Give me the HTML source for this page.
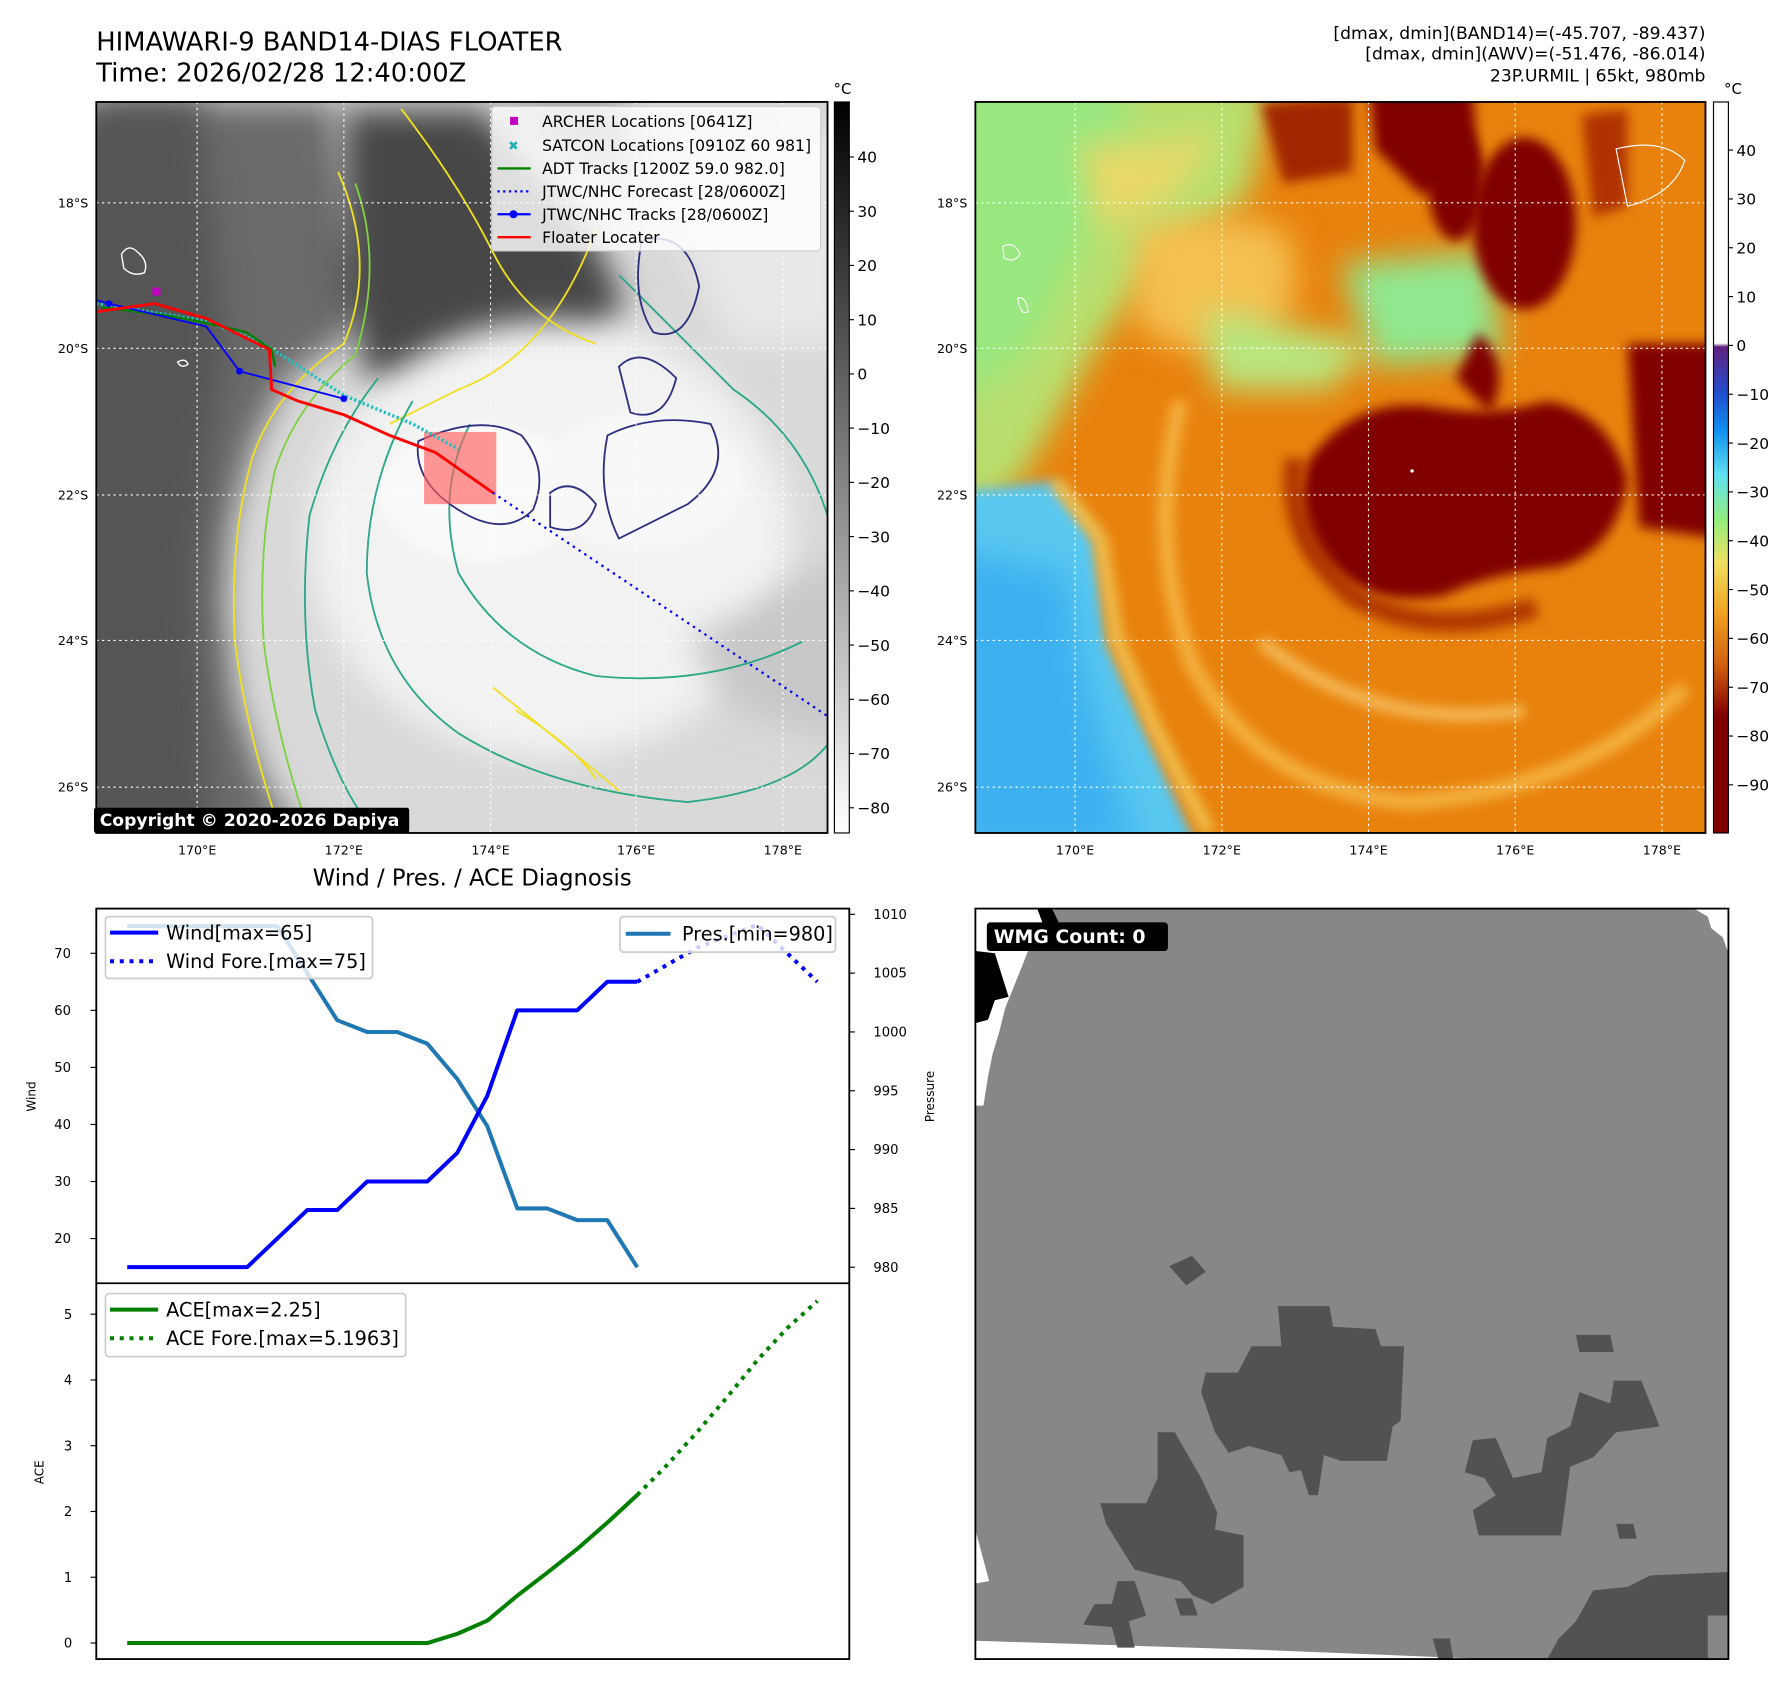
<!DOCTYPE html>
<html><head><meta charset="utf-8"><style>
html,body{margin:0;padding:0;background:#fff;}
svg{display:block;font-family:"DejaVu Sans","Liberation Sans",sans-serif;}
</style></head><body>
<svg id="root" width="1788" height="1690" viewBox="0 0 1560 1475" preserveAspectRatio="none" xmlns="http://www.w3.org/2000/svg">
<defs>
<clipPath id="c1"><rect x="84" y="89" width="638" height="638"/></clipPath>
<clipPath id="c2"><rect x="851" y="89" width="637" height="638"/></clipPath>
<clipPath id="c3"><rect x="851" y="793" width="657" height="655"/></clipPath>
<filter id="bl" filterUnits="userSpaceOnUse" x="0" y="0" width="1560" height="1475"><feGaussianBlur stdDeviation="14"/></filter>
<filter id="bs" filterUnits="userSpaceOnUse" x="0" y="0" width="1560" height="1475"><feGaussianBlur stdDeviation="5"/></filter>
<linearGradient id="cbg" x1="0" y1="0" x2="0" y2="1"><stop offset="0" stop-color="#000"/><stop offset="1" stop-color="#fff"/></linearGradient>
<linearGradient id="cbc" x1="0" y1="0" x2="0" y2="1">
<stop offset="0" stop-color="#fff"/><stop offset="0.33" stop-color="#fff"/>
<stop offset="0.335" stop-color="#602080"/><stop offset="0.40" stop-color="#2050d0"/><stop offset="0.45" stop-color="#1090f0"/>
<stop offset="0.51" stop-color="#60e0f0"/><stop offset="0.57" stop-color="#90ee80"/><stop offset="0.63" stop-color="#f0e060"/>
<stop offset="0.70" stop-color="#f0a020"/><stop offset="0.77" stop-color="#d06010"/><stop offset="0.84" stop-color="#800000"/><stop offset="1" stop-color="#800000"/>
</linearGradient>
</defs>

<!-- titles -->
<text x="84" y="44" font-size="22.5" fill="#000">HIMAWARI-9 BAND14-DIAS FLOATER</text>
<text x="84" y="71" font-size="22.5" fill="#000">Time: 2026/02/28 12:40:00Z</text>
<g font-size="15" text-anchor="end" fill="#000">
<text x="1488" y="34">[dmax, dmin](BAND14)=(-45.707, -89.437)</text>
<text x="1488" y="52">[dmax, dmin](AWV)=(-51.476, -86.014)</text>
<text x="1488" y="71">23P.URMIL | 65kt, 980mb</text>
</g>

<!-- MAP 1 -->
<g clip-path="url(#c1)">
<rect x="84" y="89" width="638" height="638" fill="#d9d9d9"/>
<path d="M84,89 L290,89 L305,200 L325,260 L295,300 L250,330 L220,390 L200,460 L195,530 L205,610 L230,680 L260,727 L84,727 Z" fill="#6a6a6a" filter="url(#bl)"/>
<path d="M60,89 L175,89 L195,300 L170,500 L185,740 L60,740 Z" fill="#555" filter="url(#bl)"/>
<path d="M300,95 L420,95 L470,150 L520,210 L545,265 L500,320 L440,330 L380,350 L320,330 L300,250 Z" fill="#474747" filter="url(#bl)"/>
<path d="M430,92 L540,92 L560,150 L500,140 Z" fill="#8a8a8a" filter="url(#bl)"/>
<path d="M560,140 L740,120 L740,300 L640,300 Z" fill="#e8e8e8" filter="url(#bl)"/>
<ellipse cx="480" cy="470" rx="210" ry="190" fill="#f2f2f2" filter="url(#bl)"/>
<ellipse cx="420" cy="430" rx="90" ry="60" fill="#fafafa" filter="url(#bs)"/>
<ellipse cx="560" cy="420" rx="90" ry="60" fill="#f8f8f8" filter="url(#bs)"/>
<path d="M600,560 L740,480 L740,650 L640,620 Z" fill="#c8c8c8" filter="url(#bl)"/>
<!-- contours -->
<g fill="none" stroke-width="1.6">
<path d="M295,150 Q330,230 300,300 Q240,340 220,400 Q200,470 205,560 Q215,640 245,727" stroke="#f0e020"/>
<path d="M520,200 Q480,310 400,340 Q370,355 340,370" stroke="#f0e020"/>
<path d="M350,95 Q400,160 430,220 Q460,280 520,300" stroke="#f0e020"/>
<path d="M430,600 Q480,640 540,690 M450,620 Q500,650 520,680" stroke="#f0e020"/>
<path d="M310,160 Q335,230 310,310 Q260,350 240,410 Q225,480 230,560 Q240,640 270,727" stroke="#80d040"/>
<path d="M330,330 Q290,380 270,450 Q260,540 275,620 Q300,700 330,727" stroke="#2aa888"/>
<path d="M360,350 Q320,420 320,500 Q330,590 400,640 Q480,690 600,700 Q690,690 722,650" stroke="#2aa888"/>
<path d="M410,370 Q380,430 400,500 Q440,570 520,590 Q620,600 700,560" stroke="#2aa888"/>
<path d="M540,240 Q600,300 640,340 Q700,380 722,450" stroke="#2aa888"/>
<path d="M365,385 Q360,420 400,445 Q440,470 465,445 Q480,410 455,380 Q420,360 365,385 Z" stroke="#303080"/>
<path d="M480,430 Q500,415 520,440 Q510,470 480,460 Z" stroke="#303080"/>
<path d="M530,380 Q570,360 620,370 Q640,410 600,440 Q560,460 540,470 Q520,430 530,380 Z" stroke="#303080"/>
<path d="M560,210 Q600,200 610,250 Q600,300 570,290 Q550,260 560,210 Z" stroke="#303080"/>
<path d="M540,320 Q560,300 590,330 Q580,370 550,360 Z" stroke="#303080"/>
</g>
<!-- grid -->
<g stroke="#fff" stroke-width="1" stroke-dasharray="2,3">
<line x1="172" y1="89" x2="172" y2="727"/><line x1="300" y1="89" x2="300" y2="727"/><line x1="428" y1="89" x2="428" y2="727"/><line x1="555" y1="89" x2="555" y2="727"/><line x1="683" y1="89" x2="683" y2="727"/>
<line x1="84" y1="177" x2="722" y2="177"/><line x1="84" y1="304" x2="722" y2="304"/><line x1="84" y1="432" x2="722" y2="432"/><line x1="84" y1="559" x2="722" y2="559"/><line x1="84" y1="687" x2="722" y2="687"/>
</g>
<path d="M106,222 Q112,212 120,220 Q130,228 126,238 Q116,242 108,234 Z" fill="none" stroke="#fff" stroke-width="1.2"/>
<path d="M155,316 Q162,312 164,318 Q158,322 155,316 Z" fill="none" stroke="#fff" stroke-width="1.2"/>
<!-- tracks -->
<rect x="370" y="377" width="63" height="63" fill="#ff6060" fill-opacity="0.65"/>
<polyline points="84,265 180,280 230,300 300,345 360,370 400,392" fill="none" stroke="#20c0c0" stroke-width="3" stroke-dasharray="2,2"/>
<polyline points="88,268 150,276 185,283 215,290 237,305 240,320" fill="none" stroke="#008000" stroke-width="2"/>
<polyline points="84,262 95,265 180,285 209,324 300,348" fill="none" stroke="#0000ff" stroke-width="1.6"/>
<g fill="#0000ff"><circle cx="95" cy="265" r="3"/><circle cx="209" cy="324" r="3"/><circle cx="300" cy="348" r="3"/></g>
<polyline points="84,272 135,265 180,278 235,305 237,340 260,350 300,362 340,380 380,395 430,430" fill="none" stroke="#ff0000" stroke-width="2.5"/>
<line x1="430" y1="430" x2="722" y2="625" stroke="#0000ff" stroke-width="2" stroke-dasharray="2,4"/>
<rect x="133" y="251" width="7" height="7" fill="#c000c0"/>
</g>
<rect x="84" y="89" width="638" height="638" fill="none" stroke="#000" stroke-width="1.6"/>
<g>
<rect x="429" y="93" width="287" height="126" fill="#fff" fill-opacity="0.82" stroke="#ccc" rx="3"/>
<g font-size="13.6" fill="#000">
<rect x="445" y="102" width="7" height="7" fill="#c000c0"/><text x="473" y="111">ARCHER Locations [0641Z]</text>
<text x="448" y="131" fill="#20b0b0" text-anchor="middle" font-size="11" font-weight="bold">✖</text><text x="473" y="132">SATCON Locations [0910Z 60 981]</text>
<line x1="434" y1="147" x2="463" y2="147" stroke="#008000" stroke-width="2"/><text x="473" y="152">ADT Tracks [1200Z 59.0 982.0]</text>
<line x1="434" y1="167" x2="463" y2="167" stroke="#0000ff" stroke-width="2" stroke-dasharray="2,3"/><text x="473" y="172">JTWC/NHC Forecast [28/0600Z]</text>
<line x1="434" y1="187" x2="463" y2="187" stroke="#0000ff" stroke-width="2"/><circle cx="448" cy="187" r="3.5" fill="#0000ff"/><text x="473" y="192">JTWC/NHC Tracks [28/0600Z]</text>
<line x1="434" y1="207" x2="463" y2="207" stroke="#ff0000" stroke-width="2"/><text x="473" y="212">Floater Locater</text>
</g></g>
<rect x="82" y="705" width="275" height="22" fill="#000" rx="2"/>
<text x="87" y="721" font-size="15" font-weight="bold" fill="#fff">Copyright © 2020-2026 Dapiya</text>
<!-- map1 axis labels -->
<g font-size="11" fill="#000" text-anchor="end">
<text x="77" y="181">18°S</text><text x="77" y="308">20°S</text><text x="77" y="436">22°S</text><text x="77" y="563">24°S</text><text x="77" y="691">26°S</text>
</g>
<g font-size="11" fill="#000" text-anchor="middle">
<text x="172" y="746">170°E</text><text x="300" y="746">172°E</text><text x="428" y="746">174°E</text><text x="555" y="746">176°E</text><text x="683" y="746">178°E</text>
</g>
<g>
<rect x="728" y="89" width="13" height="638" fill="url(#cbg)" stroke="#000" stroke-width="1"/>
<text x="735" y="82" font-size="13" text-anchor="middle">°C</text>
<g font-size="13" fill="#000" id="cb1"></g>
</g>

<!-- MAP 2 -->
<g clip-path="url(#c2)">
<rect x="851" y="89" width="637" height="638" fill="#e8820c"/>
<path d="M830,70 L1110,70 L1090,170 L1010,230 L965,290 L930,350 L890,420 L830,460 Z" fill="#b8e070" filter="url(#bl)"/>
<path d="M830,70 L990,70 L950,200 L900,300 L830,360 Z" fill="#98e880" filter="url(#bl)"/>
<path d="M940,120 Q1000,140 1060,110 Q1040,180 960,200 Z" fill="#e8d868" filter="url(#bl)"/>
<path d="M990,200 Q1060,180 1120,200 Q1150,260 1100,300 Q1030,320 990,280 Z" fill="#f4c050" filter="url(#bl)"/>
<path d="M1170,230 L1300,220 L1310,310 L1200,320 Z" fill="#90e890" filter="url(#bl)"/>
<path d="M1050,270 L1200,300 L1160,340 L1060,340 Z" fill="#b8e880" filter="url(#bl)"/>
<path d="M830,430 L920,420 L955,470 L965,560 L1000,640 L1045,740 L830,740 Z" fill="#58c8f0" filter="url(#bs)"/>
<path d="M830,480 L930,500 L950,600 L990,740 L830,740 Z" fill="#3cb0f0" filter="url(#bl)"/>
<path d="M920,420 L960,470 L975,560 L1010,640 L1055,727" fill="none" stroke="#f0c050" stroke-width="12" filter="url(#bs)"/>
<path d="M1030,350 Q1000,470 1040,580 Q1100,690 1230,700 Q1380,690 1470,600" fill="none" stroke="#f4b040" stroke-width="14" filter="url(#bs)"/>
<path d="M1100,560 Q1200,640 1330,620" fill="none" stroke="#f7c060" stroke-width="10" filter="url(#bs)"/>
<path d="M1140,405 Q1180,345 1250,355 Q1300,365 1350,350 Q1405,360 1420,420 Q1410,480 1360,495 Q1300,500 1260,520 Q1200,530 1165,500 Q1120,470 1140,405 Z" fill="#800000" filter="url(#bs)"/>
<path d="M1130,400 Q1120,470 1180,520 Q1250,560 1340,530" fill="none" stroke="#b03800" stroke-width="18" filter="url(#bs)"/>
<ellipse cx="1330" cy="195" rx="45" ry="75" fill="#800000" filter="url(#bs)"/>
<ellipse cx="1270" cy="160" rx="24" ry="50" fill="#800000" filter="url(#bs)"/>
<path d="M1195,80 L1285,80 L1290,150 L1240,170 L1200,130 Z" fill="#800000" filter="url(#bs)"/>
<path d="M1100,90 L1180,85 L1180,150 L1120,160 Z" fill="#a02800" filter="url(#bs)"/>
<path d="M1420,300 L1500,300 L1500,470 L1430,460 Z" fill="#800000" filter="url(#bs)"/>
<path d="M1290,290 Q1320,320 1300,360 L1270,330 Z" fill="#800000" filter="url(#bs)"/>
<path d="M1380,100 L1420,95 L1420,180 L1390,190 Z" fill="#b03000" filter="url(#bs)"/>
<path d="M1410,130 Q1450,120 1470,140 Q1460,170 1420,180 Z" fill="none" stroke="#fff" stroke-width="1"/>
<path d="M875,215 Q885,210 890,222 Q885,230 876,225 Z" fill="none" stroke="#fff" stroke-width="1"/>
<path d="M888,260 Q895,258 897,272 Q890,276 888,260 Z" fill="none" stroke="#fff" stroke-width="1"/>
<circle cx="1232" cy="411" r="1.5" fill="#fff"/>
<g stroke="#fff" stroke-width="1" stroke-dasharray="2,3">
<line x1="938" y1="89" x2="938" y2="727"/><line x1="1066" y1="89" x2="1066" y2="727"/><line x1="1194" y1="89" x2="1194" y2="727"/><line x1="1322" y1="89" x2="1322" y2="727"/><line x1="1450" y1="89" x2="1450" y2="727"/>
<line x1="851" y1="177" x2="1488" y2="177"/><line x1="851" y1="304" x2="1488" y2="304"/><line x1="851" y1="432" x2="1488" y2="432"/><line x1="851" y1="559" x2="1488" y2="559"/><line x1="851" y1="687" x2="1488" y2="687"/>
</g>
</g>
<rect x="851" y="89" width="637" height="638" fill="none" stroke="#000" stroke-width="1.6"/>
<g font-size="11" fill="#000" text-anchor="end">
<text x="844" y="181">18°S</text><text x="844" y="308">20°S</text><text x="844" y="436">22°S</text><text x="844" y="563">24°S</text><text x="844" y="691">26°S</text>
</g>
<g font-size="11" fill="#000" text-anchor="middle">
<text x="938" y="746">170°E</text><text x="1066" y="746">172°E</text><text x="1194" y="746">174°E</text><text x="1322" y="746">176°E</text><text x="1450" y="746">178°E</text>
</g>
<g>
<rect x="1495" y="89" width="13" height="638" fill="url(#cbc)" stroke="#000" stroke-width="1"/>
<text x="1512" y="82" font-size="13" text-anchor="middle">°C</text>
<g font-size="13" fill="#000" id="cb2"></g>
</g>

<!-- WMG panel -->
<g clip-path="url(#c3)">
<rect x="851" y="793" width="657" height="655" fill="#878787"/>
<path d="M1478,793 L1508,793 L1508,832 L1503,818 L1493,810 L1490,800 Z" fill="#fff"/>
<path d="M851,793 L920,793 L912,805 L900,822 L893,840 L885,860 L877,880 L872,900 L866,920 L862,940 L858,965 L851,965 Z" fill="#fff"/>
<path d="M905,793 L918,793 L925,808 L912,812 Z M851,830 L868,832 L880,870 L868,873 L862,890 L851,893 Z" fill="#000"/>
<path d="M851,1335 L863,1380 L851,1382 Z" fill="#fff"/>
<path d="M851,1432 L1100,1440 L1300,1448 L851,1448 Z" fill="#fff"/>
<g fill="#525252">
<path d="M1115,1140 L1160,1140 L1163,1158 L1200,1160 L1205,1175 L1225,1175 L1222,1240 L1215,1245 L1210,1275 L1170,1275 L1155,1270 L1150,1305 L1142,1305 L1135,1283 L1125,1285 L1118,1270 L1090,1262 L1072,1268 L1060,1250 L1048,1215 L1052,1198 L1080,1198 L1092,1175 L1118,1175 Z"/>
<path d="M1020,1105 L1040,1096 L1052,1110 L1035,1122 Z"/>
<path d="M1010,1250 L1025,1250 L1048,1290 L1062,1320 L1060,1335 L1085,1340 L1085,1385 L1058,1400 L1040,1392 L1030,1380 L990,1370 L965,1330 L960,1312 L1000,1312 L1010,1290 Z"/>
<path d="M1285,1257 L1305,1255 L1320,1290 L1345,1285 L1350,1255 L1370,1245 L1378,1215 L1405,1225 L1408,1205 L1432,1205 L1448,1245 L1410,1250 L1390,1272 L1370,1280 L1362,1340 L1290,1340 L1285,1318 L1305,1305 L1295,1290 L1278,1285 Z"/>
<path d="M1375,1165 L1405,1165 L1408,1180 L1378,1180 Z"/>
<path d="M1410,1330 L1425,1330 L1428,1343 L1413,1343 Z"/>
<path d="M1440,1375 L1508,1372 L1508,1410 L1490,1410 L1490,1448 L1350,1448 L1360,1430 L1375,1415 L1390,1388 L1420,1385 Z"/>
<path d="M975,1380 L990,1380 L1000,1410 L985,1415 L990,1438 L975,1438 L970,1420 L945,1418 L955,1400 L970,1400 Z"/>
<path d="M1025,1395 L1040,1395 L1045,1410 L1030,1410 Z"/>
<path d="M1250,1430 L1265,1430 L1268,1448 L1255,1448 Z"/>
</g>
</g>
<rect x="851" y="793" width="657" height="655" fill="none" stroke="#000" stroke-width="1.6"/>
<rect x="861" y="805" width="158" height="25" fill="#000" rx="3"/>
<text x="867" y="823" font-size="16.5" font-weight="bold" fill="#fff">WMG Count: 0</text>

<!-- charts -->
<text x="412" y="773" font-size="19.8" text-anchor="middle">Wind / Pres. / ACE Diagnosis</text>
<g id="charts"></g>
<rect x="84" y="793" width="657" height="655" fill="none" stroke="#000" stroke-width="1.6"/>
<line x1="84" y1="1120" x2="741" y2="1120" stroke="#000" stroke-width="1.6"/>
<text transform="translate(31,957) rotate(-90)" font-size="10.5" text-anchor="middle">Wind</text>
<text transform="translate(815,957) rotate(-90)" font-size="10.5" text-anchor="middle">Pressure</text>
<text transform="translate(38,1285) rotate(-90)" font-size="10.5" text-anchor="middle">ACE</text>
<g>
<rect x="92" y="800" width="233" height="54" fill="#fff" fill-opacity="0.8" stroke="#ccc" stroke-width="1.5" rx="3"/>
<line x1="96" y1="814" x2="138" y2="814" stroke="#0000ff" stroke-width="3.5"/>
<line x1="96" y1="839" x2="138" y2="839" stroke="#0000ff" stroke-width="3.5" stroke-dasharray="3.5,5"/>
<text x="145" y="820" font-size="16.8">Wind[max=65]</text>
<text x="145" y="845" font-size="16.8">Wind Fore.[max=75]</text>
</g>
<g>
<rect x="541" y="800" width="188" height="31" fill="#fff" fill-opacity="0.8" stroke="#ccc" stroke-width="1.5" rx="3"/>
<line x1="546" y1="815" x2="585" y2="815" stroke="#1f77b4" stroke-width="3.5"/>
<text x="595" y="821" font-size="16.8">Pres.[min=980]</text>
</g>
<g>
<rect x="92" y="1129" width="262" height="55" fill="#fff" fill-opacity="0.8" stroke="#ccc" stroke-width="1.5" rx="3"/>
<line x1="96" y1="1143" x2="138" y2="1143" stroke="#008000" stroke-width="3.5"/>
<line x1="96" y1="1168" x2="138" y2="1168" stroke="#008000" stroke-width="3.5" stroke-dasharray="3.5,5"/>
<text x="145" y="1149" font-size="16.8">ACE[max=2.25]</text>
<text x="145" y="1174" font-size="16.8">ACE Fore.[max=5.1963]</text>
</g>
</svg>
<script>
const NS="http://www.w3.org/2000/svg";
const windObs=[15,15,15,15,15,20,25,25,30,30,30,35,45,60,60,60,65,65];
const windFore=[65,68,71,73,75,70,65];
const presObs=[1009,1009,1009,1009,1009,1009,1005,1001,1000,1000,999,996,992,985,985,984,984,980];
const aceObs=[0,0,0,0,0,0,0,0,0,0,0,0.14,0.34,0.72,1.07,1.43,1.83,2.25];
const aceFore=[2.25,2.71,3.21,3.74,4.30,4.79,5.20];
const windTicks=[20,30,40,50,60,70];
const presTicks=[980,985,990,995,1000,1005,1010];
const aceTicks=[0,1,2,3,4,5];
const grayTicks=[40,30,20,10,0,-10,-20,-30,-40,-50,-60,-70,-80];
const colorTicks=[40,30,20,10,0,-10,-20,-30,-40,-50,-60,-70,-80,-90];
const foreStart=windObs.length-1;
function xi(i){return 111+(556-111)/17*i;}
function yWind(v){return 1081-(v-20)*(1081-832)/50;}
function yPres(p){return 1106-(p-980)*(1106-798)/30;}
function yAce(a){return 1434-a*(1434-1147)/5;}
function yGray(t){return 137+(40-t)*(705-137)/120;}
function yColor(t){return 131+(40-t)*(685-131)/130;}
const g=document.getElementById('charts');
function mk(tag,attrs,parent){const e=document.createElementNS(NS,tag);for(const k in attrs)e.setAttribute(k,attrs[k]);(parent||g).appendChild(e);return e;}
function line(vals,off,yf,color,dash,name){
  const pts=vals.map((v,i)=>xi(i+off).toFixed(1)+','+yf(v).toFixed(1)).join(' ');
  const p=mk('polyline',{points:pts,fill:'none',stroke:color,'stroke-width':3.5,'stroke-linejoin':'round'});
  if(dash)p.setAttribute('stroke-dasharray',dash);
  
  
}
line(presObs,0,yPres,'#1f77b4',null,'pressure-line');
line(windObs,0,yWind,'#0000ff',null,'wind-line');
line(windFore,foreStart,yWind,'#0000ff','3.5,5','wind-forecast-line');
line(aceObs,0,yAce,'#008000',null,'ace-line');
line(aceFore,foreStart,yAce,'#008000','3.5,5','ace-forecast-line');
windTicks.forEach(t=>{const y=yWind(t);mk('line',{x1:79,y1:y,x2:84,y2:y,stroke:'#000'});const tx=mk('text',{x:62,y:y+4,'font-size':11.5,'text-anchor':'end'});tx.textContent=t;

});
presTicks.forEach(t=>{const y=yPres(t);mk('line',{x1:741,y1:y,x2:746,y2:y,stroke:'#000'});const tx=mk('text',{x:762,y:y+4,'font-size':11.5});tx.textContent=t;

});
aceTicks.forEach(t=>{const y=yAce(t);mk('line',{x1:79,y1:y,x2:84,y2:y,stroke:'#000'});const tx=mk('text',{x:63,y:y+4,'font-size':11.5,'text-anchor':'end'});tx.textContent=t;

});
const cb1=document.getElementById('cb1');
grayTicks.forEach(t=>{const y=yGray(t);mk('line',{x1:741,y1:y,x2:745,y2:y,stroke:'#000'},cb1);const tx=mk('text',{x:748,y:y+5,'font-size':13.5},cb1);tx.textContent=String(t).replace('-','\u2212');

});
const cb2=document.getElementById('cb2');
colorTicks.forEach(t=>{const y=yColor(t);mk('line',{x1:1508,y1:y,x2:1512,y2:y,stroke:'#000'},cb2);const tx=mk('text',{x:1515,y:y+5,'font-size':13.5},cb2);tx.textContent=String(t).replace('-','\u2212');

});
</script>
</body></html>
